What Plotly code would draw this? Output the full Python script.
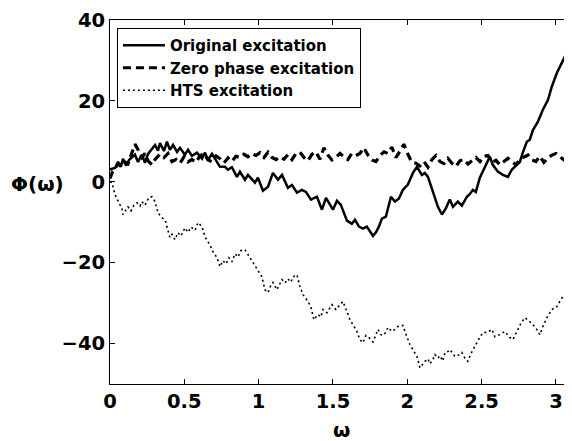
import plotly.graph_objects as go

# Original excitation (solid)
orig_x = [0.000,0.034,0.054,0.074,0.087,0.108,0.128,0.168,0.188,0.215,0.235,0.256,0.303,0.323,0.336,0.363,0.383,0.403,0.424,0.451,
          0.471,0.504,0.525,0.551,0.585,0.619,0.639,0.659,0.686,0.720,0.740,0.773,0.794,0.820,0.854,0.874,0.908,0.928,0.975,0.995,
          1.029,1.063,1.096,1.130,1.157,1.197,1.224,1.258,1.291,1.318,1.352,1.392,1.426,1.453,1.479,1.500,1.527,1.553,1.594,1.627,
          1.648,1.675,1.701,1.728,1.769,1.789,1.809,1.829,1.856,1.890,1.917,1.943,1.970,2.004,2.038,2.065,2.098,2.118,2.139,2.172,
          2.206,2.233,2.260,2.286,2.307,2.340,2.367,2.401,2.421,2.441,2.461,2.488,2.522,2.555,2.575,2.609,2.643,2.677,2.703,2.737,
          2.757,2.777,2.804,2.824,2.845,2.878,2.912,2.946,2.972,3.006,3.026,3.046,3.073,3.087,3.107]
orig_y = [3.1,3.4,4.9,3.7,5.7,4.0,5.4,6.7,4.9,6.7,4.7,6.9,9.1,7.7,9.6,7.6,9.9,7.9,9.1,7.4,
          8.4,6.7,7.9,6.4,7.2,5.7,7.2,5.4,6.9,4.7,3.7,3.7,3.0,3.6,1.2,2.5,0.5,1.7,-0.2,1.0,
          -2.2,-1.2,2.2,0.5,1.7,-1.5,-0.8,-2.7,-2.0,-2.5,-4.4,-3.7,-6.9,-4.0,-5.7,-6.9,-4.7,-5.7,-9.6,-10.4,
          -9.4,-11.1,-11.6,-11.1,-13.4,-12.5,-11.1,-9.1,-8.6,-3.7,-4.9,-4.2,-2.0,-0.7,2.2,3.7,1.7,2.2,1.2,-2.7,
          -6.2,-8.1,-6.5,-4.4,-6.2,-4.9,-5.9,-3.7,-3.0,-2.0,-2.5,1.0,3.7,6.2,4.2,2.5,1.7,1.2,3.0,4.2,
          4.9,7.2,9.9,10.4,12.8,14.8,17.8,20.2,23.5,26.9,28.4,29.6,31.9,29.6,28.9]

# Zero phase excitation (dashed)
zero_x = [0.000,0.017,0.034,0.054,0.074,0.094,0.121,0.148,0.168,0.188,0.215,0.235,0.256,0.282,0.303,0.336,0.363,0.390,0.417,0.444,
          0.471,0.498,0.525,0.551,0.578,0.605,0.632,0.659,0.686,0.713,0.740,0.767,0.794,0.820,0.847,0.874,0.901,0.928,0.955,0.982,
          1.009,1.036,1.063,1.090,1.117,1.144,1.170,1.197,1.224,1.251,1.278,1.305,1.332,1.359,1.386,1.412,1.439,1.466,1.493,1.520,
          1.547,1.573,1.600,1.627,1.654,1.681,1.708,1.735,1.762,1.789,1.816,1.843,1.869,1.896,1.923,1.950,1.977,2.004,2.031,2.058,
          2.085,2.112,2.139,2.166,2.193,2.220,2.246,2.273,2.300,2.327,2.354,2.381,2.408,2.435,2.462,2.489,2.516,2.543,2.569,2.596,
          2.623,2.650,2.677,2.704,2.731,2.758,2.785,2.812,2.838,2.865,2.892,2.919,2.946,2.973,3.000,3.027,3.054,3.080,3.107]
zero_y = [0.8,2.5,3.2,4.5,3.8,5.0,4.4,7.5,9.3,8.0,6.0,7.0,5.2,4.2,5.5,6.8,6.0,7.0,5.0,5.5,
          4.6,6.2,4.9,5.5,4.8,6.4,7.0,5.4,5.0,6.4,5.7,4.7,5.9,5.0,6.3,6.0,6.8,6.2,7.0,6.5,
          7.2,6.0,7.3,6.0,5.5,6.2,5.6,6.7,5.5,7.0,7.3,6.0,5.2,6.8,7.4,5.6,8.4,6.6,5.4,6.0,
          7.0,6.2,5.5,7.0,6.5,7.0,8.4,6.6,5.4,5.0,6.5,7.4,7.0,8.6,6.0,7.5,9.3,6.8,4.8,4.6,
          3.9,5.0,3.6,5.5,6.5,5.0,4.5,5.8,4.6,3.8,5.2,5.5,4.4,5.2,6.0,5.0,6.3,6.5,4.8,5.3,
          4.2,5.0,5.8,5.0,4.2,5.6,6.2,6.6,5.4,5.0,6.3,4.8,5.9,6.6,7.0,6.2,5.4,6.6,6.0]

# HTS excitation (dotted)
hts_x = [0.000,0.013,0.034,0.061,0.081,0.087,0.108,0.121,0.141,0.161,0.182,0.202,0.215,0.235,0.262,0.282,0.303,0.323,0.350,0.370,
         0.383,0.403,0.417,0.437,0.457,0.477,0.504,0.525,0.545,0.572,0.592,0.619,0.639,0.672,0.693,0.720,0.740,0.760,0.780,0.800,
         0.820,0.841,0.861,0.881,0.908,0.928,0.962,0.995,1.022,1.042,1.063,1.083,1.096,1.123,1.143,1.157,1.177,1.197,1.217,1.231,
         1.258,1.278,1.298,1.332,1.352,1.372,1.399,1.419,1.432,1.459,1.493,1.520,1.547,1.567,1.594,1.614,1.634,1.661,1.681,1.701,
         1.722,1.735,1.755,1.769,1.789,1.802,1.822,1.836,1.856,1.870,1.896,1.917,1.937,1.970,1.997,2.017,2.038,2.065,2.085,2.105,
         2.118,2.139,2.152,2.172,2.186,2.206,2.219,2.239,2.253,2.273,2.286,2.307,2.320,2.347,2.367,2.387,2.407,2.428,2.441,2.468,
         2.488,2.508,2.542,2.569,2.589,2.623,2.656,2.690,2.710,2.744,2.764,2.791,2.824,2.845,2.871,2.892,2.912,2.939,2.972,3.006,
         3.026,3.046,3.066,3.093,3.107]
hts_y = [0.0,-0.2,-3.2,-5.2,-6.7,-8.1,-7.0,-6.2,-7.2,-5.8,-5.2,-6.0,-4.9,-5.8,-3.9,-3.7,-4.9,-7.7,-8.9,-9.4,
         -11.1,-13.8,-13.0,-14.3,-12.6,-13.4,-11.4,-12.5,-11.2,-12.0,-10.1,-11.1,-13.6,-15.6,-17.3,-18.8,-21.0,-19.5,-20.3,-18.8,
         -19.8,-17.8,-18.6,-17.0,-16.8,-18.0,-20.0,-21.7,-23.5,-26.7,-27.4,-25.5,-24.9,-26.7,-25.0,-24.2,-25.0,-24.0,-24.8,-23.5,
         -23.0,-25.9,-27.9,-29.6,-31.1,-34.1,-32.8,-33.4,-31.6,-32.4,-30.4,-31.6,-30.4,-29.6,-32.1,-34.1,-35.3,-37.0,-39.0,-39.8,
         -38.0,-38.3,-39.0,-39.6,-37.8,-36.5,-37.8,-38.0,-37.2,-36.0,-37.0,-36.5,-35.8,-35.5,-38.3,-40.2,-41.5,-43.2,-46.0,-45.0,
         -44.4,-43.8,-45.0,-44.0,-42.7,-43.6,-43.0,-44.3,-42.2,-42.0,-41.5,-42.5,-43.2,-42.8,-42.2,-43.6,-44.4,-42.5,-41.5,-39.8,
         -38.5,-37.3,-37.2,-36.5,-38.3,-37.8,-37.0,-38.5,-39.0,-36.5,-35.0,-33.6,-34.6,-35.3,-36.5,-37.8,-35.8,-33.6,-31.6,-30.9,
         -29.6,-28.4,-28.0,-26.7,-24.2]

x_ticks = [0, 0.5, 1, 1.5, 2, 2.5, 3]
y_ticks = [-40, -20, 0, 20, 40]

FONT = "DejaVu Sans, Liberation Sans, sans-serif"

fig = go.Figure()
fig.add_trace(go.Scatter(x=orig_x, y=orig_y, mode="lines", name="Original excitation",
                         line=dict(color="black", width=2.5)))
fig.add_trace(go.Scatter(x=zero_x, y=zero_y, mode="lines", name="Zero phase excitation",
                         line=dict(color="black", width=3.2, dash="8px,5px")))
fig.add_trace(go.Scatter(x=hts_x, y=hts_y, mode="lines", name="HTS excitation",
                         line=dict(color="black", width=1.6, dash="2px,3px")))

# The page body has an 8px default margin, so the figure is sized to fill the rest of the window.
fig.update_layout(
    width=564, height=433,
    margin=dict(l=102, r=0, t=12, b=57, autoexpand=False),
    paper_bgcolor="white", plot_bgcolor="white",
    font=dict(family=FONT, color="black"),
    showlegend=True,
    legend=dict(x=0.015, y=0.978, xanchor="left", yanchor="top",
                bordercolor="black", borderwidth=1, bgcolor="white",
                font=dict(size=15, family=FONT, weight="bold"),
                itemwidth=42),
    xaxis=dict(range=[0, 3.108], tickvals=x_ticks, ticktext=[str(v) for v in x_ticks],
               ticks="inside", ticklen=5, tickcolor="black", showline=True, linecolor="black",
               linewidth=1, mirror="ticks", showgrid=False, zeroline=False, automargin=False,
               tickfont=dict(size=19.5, family=FONT, weight="bold")),
    yaxis=dict(range=[-50, 40], tickvals=y_ticks, automargin=False,
               ticks="inside", ticklen=5, tickcolor="black", showline=True, linecolor="black",
               linewidth=1, mirror=False, showgrid=False, zeroline=False,
               tickfont=dict(size=19.5, family=FONT, weight="bold")),
    annotations=[
        dict(text="Φ(ω)", xref="paper", yref="paper", x=-0.158, y=0.55, xanchor="center",
             yanchor="middle", showarrow=False, font=dict(size=20, family=FONT, weight="bold")),
        dict(text="ω", xref="paper", yref="paper", x=0.5, y=-0.125, xanchor="center",
             yanchor="middle", showarrow=False, font=dict(size=20, family=FONT, weight="bold")),
    ],
)

fig.write_html("out.html")
